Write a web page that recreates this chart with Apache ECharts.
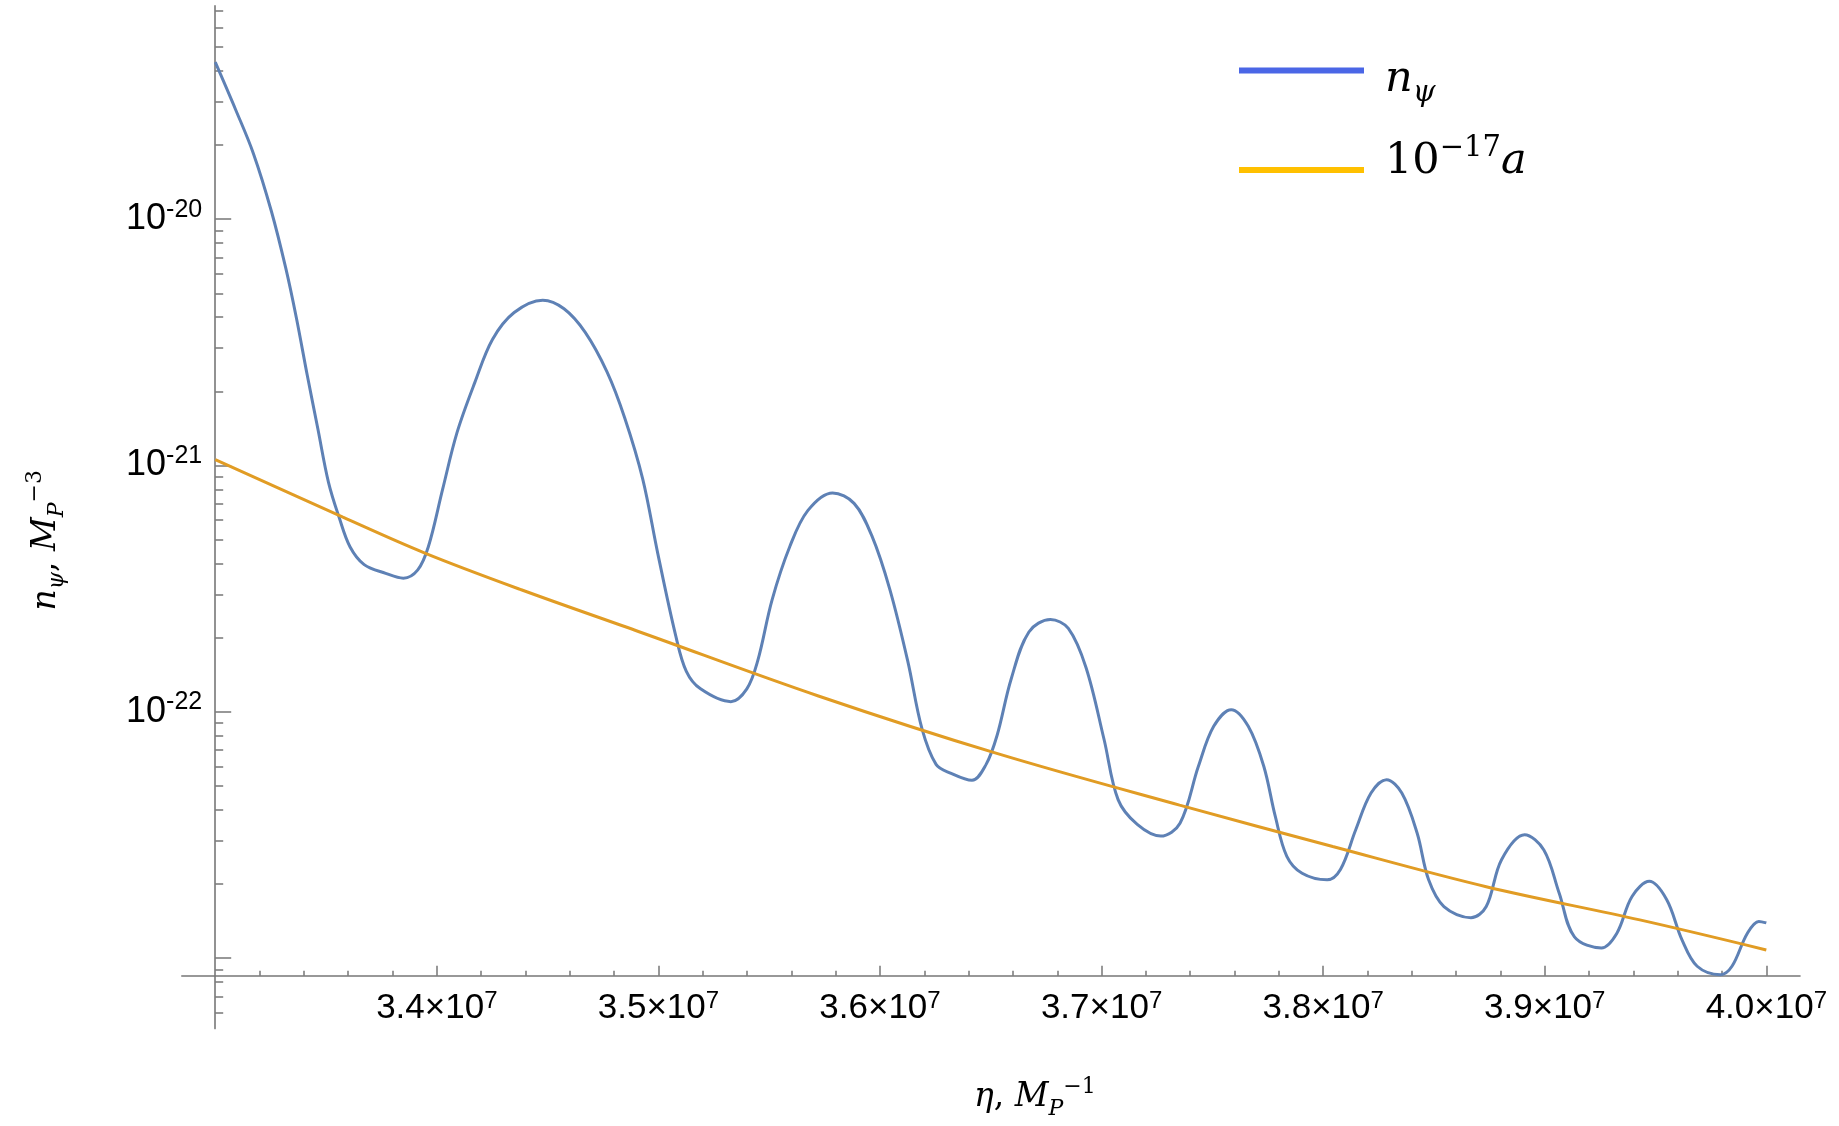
<!DOCTYPE html>
<html>
<head>
<meta charset="utf-8">
<title>n_psi</title>
<script src="https://cdn.jsdelivr.net/npm/echarts@6/dist/echarts.min.js"></script>
<style>
  html, body { margin: 0; padding: 0; background: #fff; }
  #main { width: 1839px; height: 1126px; }
</style>
</head>
<body>
<div id="main"></div>
<script>
// n_psi 读数 (eta, M_P^-1)
var etaPsi = [
  3.3000e7, 3.3093e7, 3.3172e7, 3.3253e7, 3.3318e7, 3.3366e7, 3.3415e7, 3.3463e7, 3.3511e7, 3.3560e7,
  3.3608e7, 3.3672e7, 3.3769e7, 3.3849e7, 3.3914e7, 3.3962e7, 3.4026e7, 3.4091e7, 3.4172e7, 3.4251e7,
  3.4349e7, 3.4478e7, 3.4574e7, 3.4669e7, 3.4768e7, 3.4848e7, 3.4929e7, 3.4997e7, 3.5078e7, 3.5126e7,
  3.5190e7, 3.5327e7, 3.5399e7, 3.5448e7, 3.5513e7, 3.5593e7, 3.5674e7, 3.5786e7, 3.5883e7, 3.5963e7,
  3.6044e7, 3.6125e7, 3.6189e7, 3.6253e7, 3.6318e7, 3.6415e7, 3.6479e7, 3.6528e7, 3.6592e7, 3.6672e7,
  3.6769e7, 3.6850e7, 3.6930e7, 3.7011e7, 3.7075e7, 3.7161e7, 3.7267e7, 3.7354e7, 3.7437e7, 3.7506e7,
  3.7585e7, 3.7662e7, 3.7732e7, 3.7784e7, 3.7836e7, 3.7905e7, 3.8018e7, 3.8078e7, 3.8147e7, 3.8216e7,
  3.8286e7, 3.8355e7, 3.8424e7, 3.8476e7, 3.8545e7, 3.8667e7, 3.8736e7, 3.8805e7, 3.8909e7, 3.8996e7,
  3.9065e7, 3.9134e7, 3.9256e7, 3.9325e7, 3.9394e7, 3.9472e7, 3.9550e7, 3.9619e7, 3.9688e7, 3.9793e7,
  3.9845e7, 3.9914e7, 3.9966e7, 4.0000e7
];
var nPsi = [
  4.34e-20, 2.77e-20, 1.85e-20, 1.08e-20, 6.34e-21, 3.98e-21, 2.33e-21, 1.41e-21, 8.55e-22, 6.12e-22,
  4.68e-22, 3.96e-22, 3.65e-22, 3.49e-22, 3.77e-22, 4.69e-22, 8.00e-22, 1.36e-21, 2.18e-21, 3.25e-21,
  4.18e-21, 4.69e-21, 4.33e-21, 3.48e-21, 2.40e-21, 1.56e-21, 8.83e-22, 4.40e-22, 2.04e-22, 1.46e-22,
  1.24e-22, 1.10e-22, 1.24e-22, 1.61e-22, 2.85e-22, 4.69e-22, 6.56e-22, 7.74e-22, 7.02e-22, 5.19e-22,
  3.15e-22, 1.61e-22, 8.56e-23, 6.12e-23, 5.64e-23, 5.27e-23, 6.12e-23, 8.00e-23, 1.36e-22, 2.11e-22,
  2.37e-22, 2.18e-22, 1.51e-22, 7.74e-23, 4.39e-23, 3.49e-23, 3.13e-23, 3.53e-23, 6.01e-23, 8.73e-23,
  1.02e-22, 8.73e-23, 6.01e-23, 3.76e-23, 2.59e-23, 2.21e-23, 2.08e-23, 2.29e-23, 3.32e-23, 4.68e-23,
  5.30e-23, 4.68e-23, 3.22e-23, 2.08e-23, 1.62e-23, 1.46e-23, 1.62e-23, 2.51e-23, 3.17e-23, 2.75e-23,
  1.84e-23, 1.22e-23, 1.10e-23, 1.26e-23, 1.78e-23, 2.05e-23, 1.73e-23, 1.19e-23, 9.27e-24, 8.57e-24,
  9.27e-24, 1.26e-23, 1.41e-23, 1.39e-23
];

// 10^-17 a
var etaA = [3.300e7, 3.3576e7, 3.3946e7, 3.4381e7, 3.4916e7, 3.5722e7, 3.6527e7, 3.7352e7, 3.8043e7, 3.8736e7, 3.9429e7, 4.000e7];
var aScaled = [1.057e-21, 6.17e-22, 4.41e-22, 3.13e-22, 2.11e-22, 1.16e-22, 6.78e-23, 4.18e-23, 2.84e-23, 1.95e-23, 1.43e-23, 1.08e-23];

// 刻度
var xMajorTicks = [3.4e7, 3.5e7, 3.6e7, 3.7e7, 3.8e7, 3.9e7, 4.0e7];
var yMajorExp = [-23, -22, -21, -20];
var yLabelExp = [-22, -21, -20];
var yMinorMult = [2, 3, 4, 5, 6, 7, 8, 9];

var xMin = 3.2849e7, xMax = 4.0152e7;
var yMin = -23.286, yMax = -19.134;
var axisColor = '#777777';

var xMinorTicks = [];
for (var i = 166; i <= 200; i++) {
  if (i % 5 !== 0) xMinorTicks.push(i * 2e5);
}
var yMinorTicks = [];
for (var k = -24; k <= -20; k++) {
  yMinorMult.forEach(function (m) {
    var v = k + Math.log10(m);
    if (v >= yMin && v <= yMax) yMinorTicks.push(v);
  });
}

function pairs(xs, ys) {
  return xs.map(function (x, i) { return [x, Math.log10(ys[i])]; });
}

var mathRich = {
  i: { fontFamily: 'DejaVu Serif', fontStyle: 'italic', fontSize: 33, lineHeight: 44, color: '#000' },
  u: { fontFamily: 'DejaVu Serif', fontSize: 33, lineHeight: 44, color: '#000' },
  sb: { fontFamily: 'DejaVu Serif', fontStyle: 'italic', fontSize: 22, lineHeight: 24, verticalAlign: 'bottom', color: '#000' },
  sp: { fontFamily: 'DejaVu Serif', fontSize: 22, lineHeight: 24, verticalAlign: 'top', color: '#000' }
};
var legRich = {
  i: { fontFamily: 'DejaVu Serif', fontStyle: 'italic', fontSize: 43, lineHeight: 56, color: '#000' },
  u: { fontFamily: 'DejaVu Serif', fontSize: 43, lineHeight: 56, color: '#000' },
  sb: { fontFamily: 'DejaVu Serif', fontStyle: 'italic', fontSize: 29, lineHeight: 30, verticalAlign: 'bottom', color: '#000' },
  sp: { fontFamily: 'DejaVu Serif', fontSize: 29, lineHeight: 30, verticalAlign: 'top', color: '#000' }
};

var myChart = echarts.init(document.getElementById('main'));
myChart.setOption({
  animation: false,
  grid: { left: 181.8, right: 39, top: 5.9, bottom: 97.4, containLabel: false, outerBoundsMode: 'none' },
  legend: [
    {
      data: [{ name: 'n_psi', itemStyle: { color: '#4a66e6' } }],
      left: 1239, top: 95 - 37, padding: 0, icon: 'rect', itemWidth: 125, itemHeight: 6,
      formatter: function () { return '{i|n}{sb|ψ}'; },
      textStyle: { rich: legRich, padding: [18, 0, 0, 16] }
    },
    {
      data: [{ name: 'a', itemStyle: { color: '#ffc000' } }],
      left: 1239, top: 170 - 36, padding: 0, icon: 'rect', itemWidth: 125, itemHeight: 6,
      formatter: function () { return '{u|10}{sp|−17}{i|a}'; },
      textStyle: { rich: legRich, padding: [0, 0, 16, 16] }
    }
  ],
  xAxis: [
    {
      type: 'value', min: xMin, max: xMax, position: 'bottom', offset: -52.8,
      axisLine: { show: true, onZero: false, lineStyle: { color: axisColor, width: 1.6 } },
      axisTick: { show: true, inside: true, length: 10, customValues: xMajorTicks, lineStyle: { color: axisColor, width: 1.5 } },
      axisLabel: {
        customValues: xMajorTicks, margin: 14,
        formatter: function (v) { return '{b|' + (v / 1e7).toFixed(1) + '×10}{s|7}'; },
        rich: {
          b: { fontFamily: 'Liberation Sans', fontSize: 35, lineHeight: 38, color: '#000' },
          s: { fontFamily: 'Liberation Sans', fontSize: 24, lineHeight: 25, verticalAlign: 'top', color: '#000' }
        }
      },
      splitLine: { show: false },
      name: '{i|η}{u|, }{i|M}{sb|P}{sp|−1}',
      nameLocation: 'middle', nameGap: 100,
      nameTextStyle: { rich: mathRich, padding: [0, 0, 0, 88] }
    },
    {
      type: 'value', min: xMin, max: xMax, position: 'bottom', offset: -52.8,
      axisLine: { show: false, onZero: false },
      axisTick: { show: true, inside: true, length: 5, customValues: xMinorTicks, lineStyle: { color: axisColor, width: 1.5 } },
      axisLabel: { show: false },
      splitLine: { show: false }
    }
  ],
  yAxis: [
    {
      type: 'value', min: yMin, max: yMax, position: 'left', offset: -33.4,
      axisLine: { show: true, onZero: false, lineStyle: { color: axisColor, width: 1.6 } },
      axisTick: { show: true, inside: true, length: 16, customValues: yMajorExp, lineStyle: { color: axisColor, width: 1.5 } },
      axisLabel: {
        customValues: yLabelExp, margin: 13,
        formatter: function (v) { return '{b|10}{s|-' + Math.abs(Math.round(v)) + '}'; },
        rich: {
          b: { fontFamily: 'Liberation Sans', fontSize: 36, lineHeight: 44, color: '#000' },
          s: { fontFamily: 'Liberation Sans', fontSize: 25, lineHeight: 26, verticalAlign: 'top', color: '#000' }
        }
      },
      splitLine: { show: false },
      name: '{i|n}{sb|ψ}{u|, }{i|M}{sb|P}{sp|−3}',
      nameLocation: 'middle', nameGap: 147,
      nameTextStyle: { rich: mathRich, padding: [0, 46, 0, 0] }
    },
    {
      type: 'value', min: yMin, max: yMax, position: 'left', offset: -33.4,
      axisLine: { show: false, onZero: false },
      axisTick: { show: true, inside: true, length: 8, customValues: yMinorTicks, lineStyle: { color: axisColor, width: 1.5 } },
      axisLabel: { show: false },
      splitLine: { show: false }
    }
  ],
  series: [
    {
      name: 'n_psi', type: 'line', data: pairs(etaPsi, nPsi),
      showSymbol: false, symbol: 'none', smooth: 0.35,
      lineStyle: { color: '#5e81b5', width: 3 }, itemStyle: { color: '#5e81b5' }
    },
    {
      name: 'a', type: 'line', data: pairs(etaA, aScaled),
      showSymbol: false, symbol: 'none', smooth: 0.35,
      lineStyle: { color: '#e19c24', width: 3 }, itemStyle: { color: '#e19c24' }
    }
  ]
});
</script>
</body>
</html>
